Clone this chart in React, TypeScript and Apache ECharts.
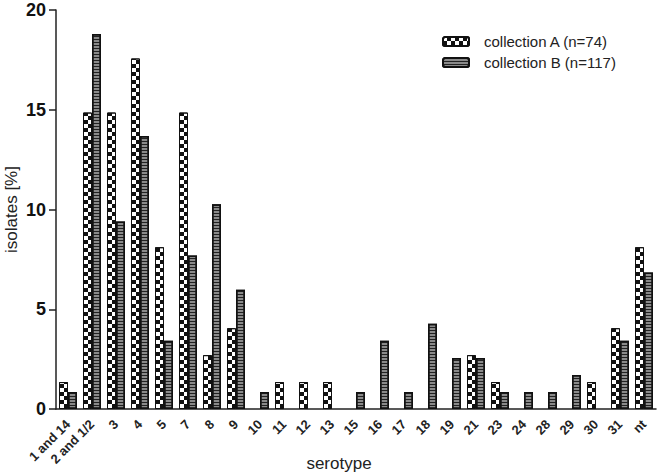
import React, { useEffect, useRef } from "react";
import * as echarts from "echarts";

const categories = ["1 and 14", "2 and 1/2", "3", "4", "5", "7", "8", "9", "10", "11", "12", "13", "15", "16", "17", "18", "19", "21", "23", "24", "28", "29", "30", "31", "nt"];
const collectionA = [1.35, 14.86, 14.86, 17.57, 8.11, 14.86, 2.7, 4.05, 0, 1.35, 1.35, 1.35, 0, 0, 0, 0, 0, 2.7, 1.35, 0, 0, 0, 1.35, 4.05, 8.11];
const collectionB = [0.85, 18.8, 9.4, 13.68, 3.42, 7.69, 10.26, 5.98, 0.85, 0, 0, 0, 0.85, 3.42, 0.85, 4.27, 2.56, 2.56, 0.85, 0.85, 0.85, 1.71, 0, 3.42, 6.84];
const yTicks = [0, 5, 10, 15, 20];
const seriesNames = ["collection A (n=74)", "collection B (n=117)"];

export default function App() {
  const ref = useRef<HTMLDivElement>(null);
  useEffect(() => {
    document.body.style.margin = "0";
    const chart = echarts.init(ref.current!, undefined, { renderer: "svg" });
    const font = "'Liberation Sans', Arial, sans-serif";
    const hideZero = (arr: number[]) => arr.map((v) => (v === 0 ? null : v));
    chart.setOption({
      animation: false,
      backgroundColor: "#fff",
      textStyle: { fontFamily: font },
      legend: {
        orient: "vertical",
        left: 437,
        top: 29,
        itemWidth: 26,
        itemHeight: 9,
        itemGap: 6,
        textStyle: { fontSize: 15, color: "#222", fontFamily: font, padding: [0, 0, 0, 10] },
        data: seriesNames,
      },
      grid: { left: 56, right: 3, top: 10, bottom: 66, containLabel: false, outerBoundsMode: "none" },
      xAxis: {
        type: "category",
        data: categories,
        name: "serotype",
        nameLocation: "middle",
        nameGap: 46,
        nameMoveOverlap: false,
        nameTextStyle: { fontSize: 17, color: "#222", fontFamily: font, padding: [0, 34, 0, 0] },
        axisLine: { lineStyle: { color: "#222", width: 1.5 } },
        axisTick: { alignWithLabel: true, length: 6, lineStyle: { color: "#222", width: 1.5 } },
        axisLabel: { rotate: 45, fontSize: 13, fontWeight: "bold", color: "#222", margin: 13, interval: 0, fontFamily: font },
      },
      yAxis: {
        type: "value",
        min: yTicks[0],
        max: yTicks[yTicks.length - 1],
        interval: 5,
        name: "isolates [%]",
        nameLocation: "middle",
        nameRotate: 90,
        nameGap: 36,
        nameMoveOverlap: false,
        nameTextStyle: { fontSize: 17, color: "#222", fontFamily: font },
        splitLine: { show: false },
        axisLine: { show: true, lineStyle: { color: "#222", width: 1.5 } },
        axisTick: { show: true, length: 7, lineStyle: { color: "#222", width: 1.5 } },
        axisLabel: { fontSize: 18, fontWeight: "bold", color: "#111", margin: 10, fontFamily: font },
      },
      series: [
        {
          name: seriesNames[0],
          type: "bar",
          data: hideZero(collectionA),
          barGap: "0%",
          barCategoryGap: "25%",
          itemStyle: {
            color: "#fff",
            borderColor: "#111",
            borderWidth: 1,
            decal: {
              symbol: "rect",
              symbolSize: 1,
              symbolKeepAspect: false,
              color: "#111",
              dashArrayX: [[4, 4], [0, 4, 4, 0]],
              dashArrayY: [4, 0],
              rotation: 0,
            },
          },
        },
        {
          name: seriesNames[1],
          type: "bar",
          data: hideZero(collectionB),
          barGap: "0%",
          barCategoryGap: "25%",
          itemStyle: {
            color: "#8a8a8a",
            borderColor: "#111",
            borderWidth: 1.5,
            decal: {
              symbol: "rect",
              symbolSize: 1,
              symbolKeepAspect: false,
              color: "#222",
              dashArrayX: [20, 0],
              dashArrayY: [1, 2],
              rotation: 0,
            },
          },
        },
      ],
    });
    return () => chart.dispose();
  }, []);
  return <div ref={ref} style={{ position: "absolute", left: 0, top: 0, width: 659, height: 475 }} />;
}
